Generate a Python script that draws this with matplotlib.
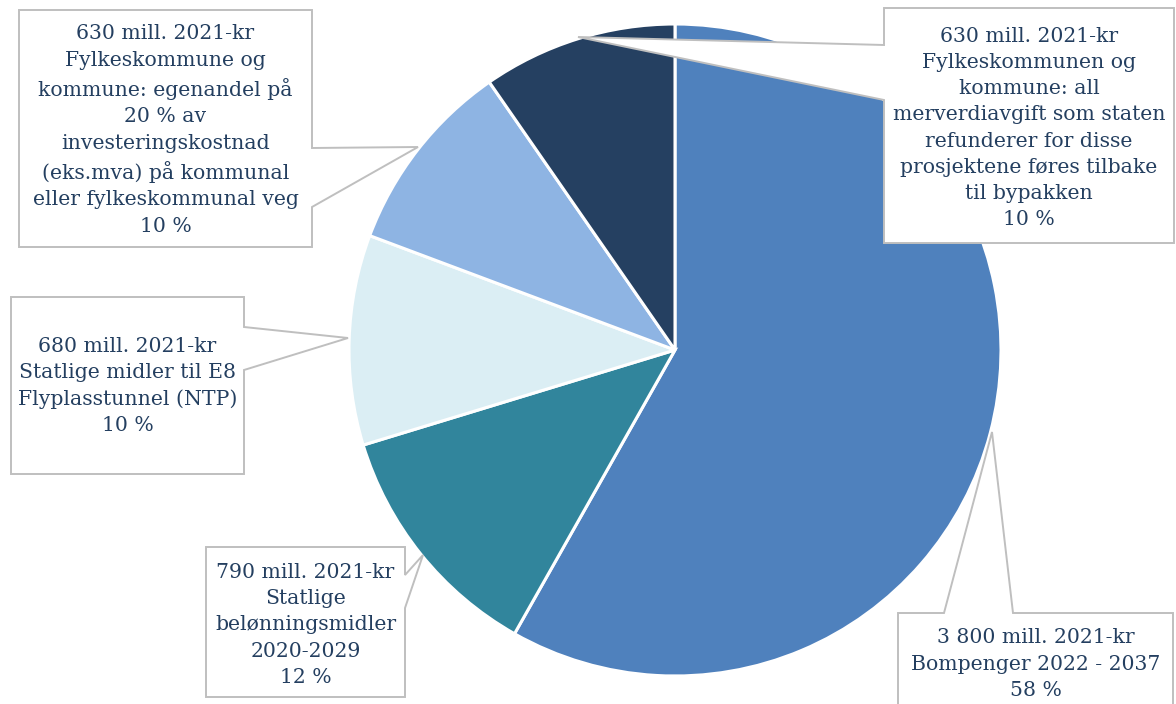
import matplotlib
matplotlib.use("Agg")
import matplotlib.pyplot as plt
from matplotlib.patches import Polygon

# ---- data ----
amounts = [3800, 790, 680, 630, 630]
descriptions = [
    "Bompenger 2022 - 2037",
    "Statlige\nbelønningsmidler\n2020-2029",
    "Statlige midler til E8\nFlyplasstunnel (NTP)",
    "Fylkeskommune og\nkommune: egenandel på\n20 % av\ninvesteringskostnad\n(eks.mva) på kommunal\neller fylkeskommunal veg",
    "Fylkeskommunen og\nkommune: all\nmerverdiavgift som staten\nrefunderer for disse\nprosjektene føres tilbake\ntil bypakken",
]
colors = ["#4F81BD", "#31859C", "#DBEEF4", "#8EB4E3", "#254061"]

W, H = 1176, 704
fig = plt.figure(figsize=(W / 100, H / 100), dpi=100)
ax = fig.add_axes([0, 0, 1, 1])

def py(y):
    return H - y

cx, cy, r = 675, 350, 326
ax.pie(amounts, colors=colors, startangle=90, counterclock=False,
       center=(cx, py(cy)), radius=r,
       wedgeprops=dict(edgecolor="white", linewidth=2.2))
ax.set_xlim(0, W)
ax.set_ylim(0, H)
ax.set_aspect("equal")
ax.axis("off")

total = sum(amounts)

# callout geometry in pixel coords: box (x0,y0,x1,y1), side, tail (a, tip, b), text centre y
callouts = [
    ((898, 613, 1173, 720), "top", ((944, 613), (992, 432), (1013, 613)), 664),
    ((206, 547, 405, 697), "right", ((405, 575), (423, 555), (405, 608)), 625),
    ((11, 297, 244, 474), "right", ((244, 327), (348, 338), (244, 370)), 386),
    ((19, 10, 312, 247), "right", ((312, 148), (418, 147), (312, 207)), 130),
    ((884, 8, 1174, 243), "left", ((884, 100), (578, 37), (884, 45)), 128),
]

def fmt_amount(v):
    return f"{v:,}".replace(",", " ")

for i, ((x0, y0, x1, y1), side, tail, ty) in enumerate(callouts):
    a, tip, b = tail
    if side == "top":
        pts = [(x0, y0), a, tip, b, (x1, y0), (x1, y1), (x0, y1)]
    elif side == "right":
        pts = [(x0, y0), (x1, y0), a, tip, b, (x1, y1), (x0, y1)]
    else:  # left
        pts = [(x0, y0), (x1, y0), (x1, y1), (x0, y1), a, tip, b]
    pts = [(x, py(y)) for x, y in pts]
    ax.add_patch(Polygon(pts, closed=True, facecolor="white",
                         edgecolor="#BFBFBF", linewidth=1.4, zorder=5,
                         clip_on=False))
    pct = round(100 * amounts[i] / total)
    txt = f"{fmt_amount(amounts[i])} mill. 2021-kr\n{descriptions[i]}\n{pct} %"
    tx = (x0 + x1) / 2
    ax.text(tx, py(ty), txt, ha="center", va="center", multialignment="center",
            fontsize=14.7, family="DejaVu Serif", color="#243F60",
            linespacing=1.48, zorder=6)

fig.savefig("out.png", dpi=100)
